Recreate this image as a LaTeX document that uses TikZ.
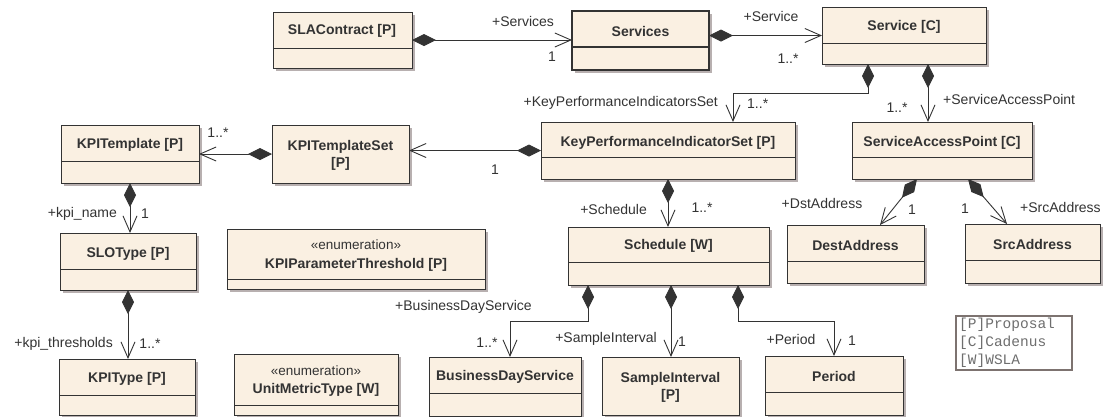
\documentclass[tikz,border=0pt]{standalone}
\usepackage{fontspec}
\setmainfont{Liberation Sans}
\newfontfamily\legfont{Liberation Mono}
\usetikzlibrary{arrows.meta,calc}
\definecolor{boxfill}{RGB}{250,240,226}
\definecolor{linec}{RGB}{51,51,51}
\definecolor{shadowc}{RGB}{184,176,176}
\definecolor{legc}{RGB}{125,115,112}
\definecolor{legtext}{RGB}{110,110,110}
\tikzset{
 classbox/.style={draw=linec, fill=boxfill, line width=0.9pt, inner sep=0pt, outer sep=0pt, anchor=north west},
 title/.style={font=\fontsize{14}{17}\selectfont\bfseries, text=linec, inner sep=0pt, align=center},
 lbl/.style={font=\fontsize{14}{17}\selectfont, text=linec, inner sep=0pt},
 stereo/.style={font=\fontsize{13.5}{16}\selectfont, text=linec, inner sep=0pt},
 sepline/.style={draw=linec, line width=0.9pt},
 assoc/.style={draw=linec, line width=0.9pt, {Diamond[length=24pt,width=12pt]}-{Straight Barb[length=16pt,width=14pt]}},
 legtxt/.style={font=\legfont\fontsize{14.5}{17}\selectfont, text=legtext, inner sep=0pt, anchor=west},
}
\newcommand{\umlcls}[6][]{%
 \fill[shadowc] (#3+3,#4+3) rectangle (#5+3,#6+3);
 \node[classbox, minimum width={(#5-#3)*1pt}, minimum height={(#6-#4)*1pt}, #1] (#2) at (#3,#4) {};
}
\newcommand{\umlsep}[2]{\draw[sepline] (#1.west |- 0,#2) -- (#1.east |- 0,#2);}
\begin{document}
\begin{tikzpicture}[x=1pt,y=-1pt]
\useasboundingbox (0,0) rectangle (1106,416);
\fill[white] (0,0) rectangle (1106,416);
% classes
\umlcls{sla}{273}{12}{412}{68}\umlsep{sla}{48}
\node[title] (t1) at (342,31) {SLAContract [P]};
\umlcls[line width=2pt]{svcs}{572}{11}{709}{70}\draw[sepline,line width=2pt] (svcs.west |- 0,47) -- (svcs.east |- 0,47);
\node[title] (t2) at (640.5,31) {Services};
\umlcls{svc}{822}{7}{986}{64}\umlsep{svc}{43}
\node[title] (t3) at (904,27) {Service [C]};
\umlcls{kpiset}{541}{122}{795}{179}\umlsep{kpiset}{157}
\node[title] (t4) at (668,142.5) {KeyPerformanceIndicatorSet [P]};
\umlcls{sap}{852}{122}{1032}{179}\umlsep{sap}{157}
\node[title] (t5) at (942,142.5) {ServiceAccessPoint [C]};
\umlcls{kt}{61}{125}{199}{183}\umlsep{kt}{161}
\node[title] (t6) at (130,145) {KPITemplate [P]};
\umlcls{kts}{272}{125}{409}{183}
\node[title] (t7) at (340.5,155) {KPITemplateSet\\{[P]}};
\umlcls{slo}{60}{233}{196}{290}\umlsep{slo}{269}
\node[title] (t8) at (128,254) {SLOType [P]};
\umlcls{kpit}{59}{359}{195}{415}\umlsep{kpit}{395}
\node[title] (t9) at (127,379) {KPIType [P]};
\umlcls{kpipt}{227}{229}{485}{289}\umlsep{kpipt}{279}
\node[stereo] (t10) at (356,245) {«enumeration»};
\node[title] (t11) at (356,265) {KPIParameterThreshold [P]};
\umlcls{umt}{234}{354}{398}{415}\umlsep{umt}{405}
\node[stereo] (t12) at (316,371) {«enumeration»};
\node[title] (t13) at (316,390) {UnitMetricType [W]};
\umlcls{sched}{568}{227}{769}{285}\umlsep{sched}{262}
\node[title] (t14) at (668.5,246) {Schedule [W]};
\umlcls{dest}{787}{225}{924}{283}\umlsep{dest}{261}
\node[title] (t15) at (855.5,245) {DestAddress};
\umlcls{src}{965}{224}{1100}{283}\umlsep{src}{260}
\node[title] (t16) at (1032.5,244) {SrcAddress};
\umlcls{bds}{429}{357}{581}{416}\umlsep{bds}{393}
\node[title] (t17) at (505,377) {BusinessDayService};
\umlcls{si}{602}{357}{739}{415}
\node[title] (t18) at (670.5,387) {SampleInterval\\{[P]}};
\umlcls{period}{765}{356}{903}{415}\umlsep{period}{392}
\node[title] (t19) at (834,376) {Period};
% legend
\node[draw=legc, line width=1.3pt, fill=white, inner sep=0pt, outer sep=0pt, anchor=north west, minimum width=116pt, minimum height=54pt] (leg) at (956,316) {};
\node[legtxt] (lg1) at (959,325) {[P]Proposal};
\node[legtxt] (lg2) at (959,343) {[C]Cadenus};
\node[legtxt] (lg3) at (959,361) {[W]WSLA};
% connectors
\draw[assoc] (sla.east) -- (sla.east -| svcs.west);
\draw[assoc] (svcs.east |- svc.west) -- (svc.west);
\coordinate (s1) at ([xshift=46pt]svc.south west);
\draw[assoc] (s1) -- ++(0,29) -| ([xshift=192pt]kpiset.north west);
\coordinate (s2) at ([xshift=106pt]svc.south west);
\draw[assoc] (s2) -- (s2 |- sap.north);
\draw[assoc] (kpiset.west) -- (kpiset.west -| kts.east);
\draw[assoc] (kts.west) -- (kts.west -| kt.east);
\draw[assoc] (kt.south) -- (kt.south |- slo.north);
\draw[assoc] (slo.south) -- (slo.south |- kpit.north);
\draw[assoc] (kpiset.south) -- (kpiset.south |- sched.north);
\draw[assoc] ([xshift=65pt]sap.south west) -- ([xshift=93pt]dest.north west);
\draw[assoc] ([xshift=116pt]sap.south west) -- ([xshift=42pt]src.north west);
\coordinate (s3) at ([xshift=20pt]sched.south west);
\draw[assoc] (s3) -- ++(0,36) -| ([xshift=81pt]bds.north west);
\coordinate (s4) at ([xshift=103pt]sched.south west);
\draw[assoc] (s4) -- (s4 |- si.north);
\coordinate (s5) at ([xshift=170pt]sched.south west);
\draw[assoc] (s5) -- ++(0,36) -| (period.north);
% labels
\node[lbl] (l1) at (523,21) {+Services};
\node[lbl] (l2) at (552,57) {1};
\node[lbl] (l3) at (771,16) {+Service};
\node[lbl] (l4) at (788,59) {1..*};
\node[lbl, anchor=east] (l5) at (718,103) {+KeyPerformanceIndicatorsSet};
\node[lbl, anchor=west] (l6) at (747,104) {1..*};
\node[lbl] (l7) at (897,108) {1..*};
\node[lbl, anchor=west] (l8) at (943,99) {+ServiceAccessPoint};
\node[lbl] (l9) at (218,133) {1..*};
\node[lbl] (l10) at (495,170) {1};
\node[lbl, anchor=east] (l11) at (117,214) {+kpi\_name};
\node[lbl] (l12) at (145,214) {1};
\node[lbl, anchor=east] (l13) at (113,344) {+kpi\_thresholds};
\node[lbl] (l14) at (150,344) {1..*};
\node[lbl, anchor=east] (l15) at (647,209) {+Schedule};
\node[lbl] (l16) at (702,208) {1..*};
\node[lbl] (l17) at (822,203) {+DstAddress};
\node[lbl] (l18) at (912,210) {1};
\node[lbl] (l19) at (965,209) {1};
\node[lbl, anchor=west] (l20) at (1020,207) {+SrcAddress};
\node[lbl, anchor=west] (l21) at (395,307) {+BusinessDayService};
\node[lbl] (l22) at (487,343) {1..*};
\node[lbl, anchor=east] (l23) at (657,339) {+SampleInterval};
\node[lbl] (l24) at (682,342) {1};
\node[lbl] (l25) at (791,339) {+Period};
\node[lbl] (l26) at (852,341) {1};
\end{tikzpicture}
\end{document}
